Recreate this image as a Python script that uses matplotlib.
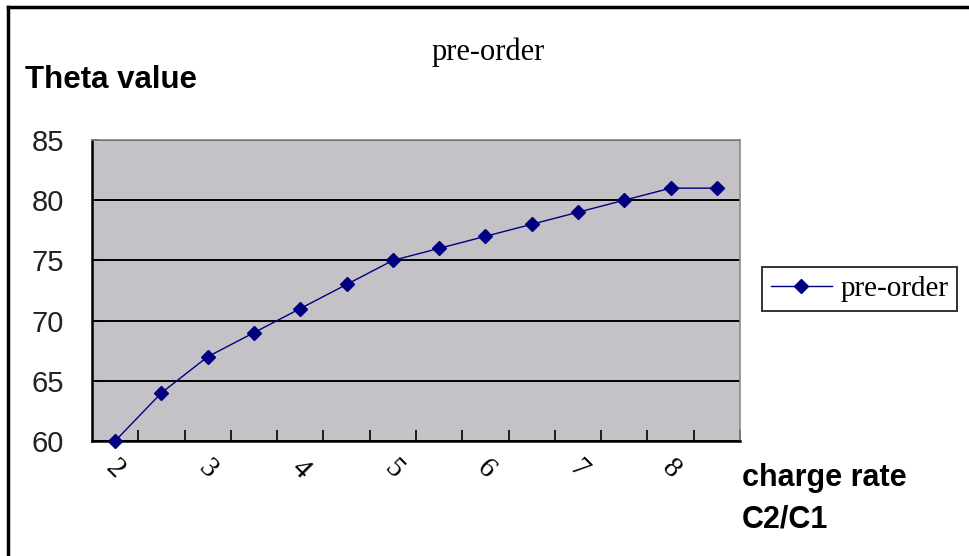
import numpy as np
import matplotlib
matplotlib.use("Agg")
import matplotlib.pyplot as plt
from matplotlib.lines import Line2D

# Theta value versus charge rate C2/C1
charge_rate = [2, 2.5, 3, 3.5, 4, 4.5, 5, 5.5, 6, 6.5, 7, 7.5, 8, 8.5]
theta = [60, 64, 67, 69, 71, 73, 75, 76, 77, 78, 79, 80, 81, 81]
x_labels = ["2", "3", "4", "5", "6", "7", "8"]
y_ticks = [60, 65, 70, 75, 80, 85]
series_name = "pre-order"

W, H = 970, 556
fig = plt.figure(figsize=(W / 100, H / 100), dpi=100)
fig.patch.set_facecolor("white")

ax = fig.add_axes([92 / W, 1 - 441 / H, (740 - 92) / W, (441 - 140) / H])
ax.set_facecolor("#C4C2C6")

pos = np.arange(len(charge_rate))
line, = ax.plot(pos, theta, color="#000080", lw=1.0, marker="D", ms=7.5,
                mec="#000080", mfc="#000080", label=series_name, zorder=5,
                clip_on=False)

ax.set_xlim(-0.5, len(charge_rate) - 0.5)
ax.set_ylim(60, 85)

# horizontal gridlines
ax.set_yticks(y_ticks)
ax.yaxis.grid(True, color="black", lw=1.4)
ax.set_axisbelow(True)
ax.tick_params(axis="y", direction="in", length=5, width=1.2, pad=20,
               labelsize=21, labelcolor="#222222")
for t in ax.get_yticklabels():
    t.set_family("Liberation Sans")

# category boundaries get tick marks; every second category gets a label
ax.set_xticks(np.arange(len(charge_rate)) + 0.5)
ax.set_xticklabels([])
ax.tick_params(axis="x", which="major", direction="in", length=8, width=1.2)
ax.set_xticks(pos[::2], minor=True)
ax.set_xticklabels(x_labels, minor=True, rotation=-45,
                   family="Liberation Serif", fontsize=21)
ax.tick_params(axis="x", which="minor", length=0, pad=10)

for s in ("left", "bottom"):
    ax.spines[s].set_color("black")
    ax.spines[s].set_linewidth(1.8)
for s in ("top", "right"):
    ax.spines[s].set_color("#8a8a8a")
    ax.spines[s].set_linewidth(1.2)

# titles and axis captions
fig.text(488 / W, 1 - 52 / H, "pre-order", ha="center", va="center",
         family="Liberation Serif", fontsize=22)
fig.text(25 / W, 1 - 80 / H, "Theta value", ha="left", va="center",
         family="Liberation Sans", fontweight="bold", fontsize=22.5)
fig.text(742 / W, 1 - 478 / H, "charge rate", ha="left", va="center",
         family="Liberation Sans", fontweight="bold", fontsize=22)
fig.text(742 / W, 1 - 520 / H, "C2/C1", ha="left", va="center",
         family="Liberation Sans", fontweight="bold", fontsize=22)

# legend
leg = fig.legend(handles=[line], loc="center left",
                 bbox_to_anchor=(762 / W, 1 - 289 / H), frameon=True,
                 fancybox=False, prop={"family": "Liberation Serif", "size": 21},
                 handlelength=2.1, handletextpad=0.3, borderpad=0.3,
                 borderaxespad=0)
leg.get_frame().set_edgecolor("black")
leg.get_frame().set_linewidth(1.4)

# outer frame lines
fig.add_artist(Line2D([8 / W, 1], [1 - 7 / H, 1 - 7 / H], color="black", lw=2.5,
                      transform=fig.transFigure))
fig.add_artist(Line2D([8 / W, 8 / W], [0, 1 - 7 / H], color="black", lw=2.5,
                      transform=fig.transFigure))

fig.savefig("out.png", dpi=100)
